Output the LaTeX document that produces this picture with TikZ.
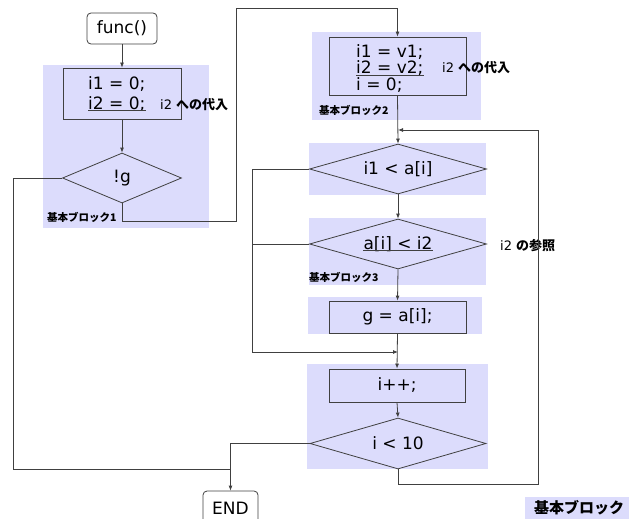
\documentclass[tikz,border=0pt]{standalone}
\usepackage{fontspec}
\setmainfont{DejaVu Sans}
\newfontfamily\cjk{Noto Sans CJK JP}
\usetikzlibrary{shapes.geometric,arrows.meta,calc}
\definecolor{bgc}{RGB}{220,220,252}
\definecolor{lc}{RGB}{64,64,64}
\begin{document}
\begin{tikzpicture}[x=1pt,y=-1pt,
  line/.style={draw=lc, line width=0.8pt},
  arr/.style={line, -{Latex[length=5pt,width=4pt]}},
  proc/.style={rectangle, draw=lc, fill=bgc, line width=0.8pt, inner sep=0pt},
  term/.style={rectangle, rounded corners=4pt, draw=lc, fill=white, line width=0.8pt, inner sep=0pt, font=\fontsize{17}{20}\selectfont},
  dec/.style={diamond, aspect=3.5, draw=lc, fill=bgc, line width=0.8pt, inner sep=0pt, font=\fontsize{17}{20}\selectfont},
  code/.style={inner sep=0pt, font=\fontsize{17}{20}\selectfont},
  lab/.style={inner sep=0pt, font=\fontsize{13}{15}\selectfont},
  blab/.style={inner sep=0pt, font=\cjk\bfseries\fontsize{10.5}{12}\selectfont},
  uline/.style={draw=lc, line width=0.7pt}]
\useasboundingbox (0,0) rectangle (629,519);
% backgrounds
\fill[bgc] (43,65) rectangle (209,228);
\fill[bgc] (312,32) rectangle (481,120);
\fill[bgc] (309,143) rectangle (486,195);
\fill[bgc] (309,218) rectangle (486,285);
\fill[bgc] (308,297) rectangle (482,334);
\fill[bgc] (307,364) rectangle (488,469);
\fill[bgc] (525,497) rectangle (640,530);
% nodes
\node[term, minimum width=70, minimum height=31] (func) at (122,28.5) {func()};
\node[proc, minimum width=118, minimum height=51] (box1) at (122,93.5) {};
\node[code, anchor=base west] (t11) at (88,89) {i1 = 0;};
\node[code, anchor=base west] (t12) at (88,109) {i2 = 0;};
\node[lab, anchor=base west] (l1) at (160,109) {i2 {\cjk\bfseries への代入}};
\node[dec, minimum width=119, minimum height=50] (d1) at (122,178) {!g};
\node[blab, anchor=west] (bl1) at (47,217) {基本ブロック1};

\node[proc, minimum width=137, minimum height=58] (box2) at (397.5,66) {};
\node[code, anchor=base west] (t21) at (356,58) {i1 = v1;};
\node[code, anchor=base west] (t22) at (356,74) {i2 = v2;};
\node[code, anchor=base west] (t23) at (356,91) {i = 0;};
\node[lab, anchor=base west] (l2) at (442,73) {i2 {\cjk\bfseries への代入}};
\node[blab, anchor=west] (bl2) at (319,110) {基本ブロック2};

\node[dec, minimum width=177, minimum height=50] (d2) at (398,169) {i1 < a[i]};
\node[dec, minimum width=177, minimum height=50] (d3) at (398,244) {};
\node[code] (t3) at (398,244) {a[i] < i2};
\node[lab, anchor=base west] (l3) at (500,250) {i2 {\cjk\bfseries の参照}};
\node[blab, anchor=west] (bl3) at (309,277) {基本ブロック3};
\node[proc, code, minimum width=137, minimum height=32] (g) at (397.5,317) {g = a[i];};

\node[proc, code, minimum width=136, minimum height=33] (ip) at (397,385.5) {i++;};
\node[dec, minimum width=176, minimum height=51] (d4) at (398,443.5) {i < 10};
\node[term, minimum width=55, minimum height=34] (end) at (230.5,508) {END};
\node[inner sep=0pt, font=\cjk\bfseries\fontsize{15}{17}\selectfont] (leg) at (579,508) {基本ブロック};

% underlines
\draw[uline] ([yshift=-1pt]t12.base west) -- ([yshift=-1pt]t12.base east);
\draw[uline] ([yshift=-1pt]t22.base west) -- ([yshift=-1pt]t22.base east);
\draw[uline] ([yshift=-1.5pt]t3.base west) -- ([yshift=-1.5pt]t3.base east);

% coordinates
\coordinate (cA) at (236,221);
\coordinate (cB) at (236,8);
\coordinate (cC) at (252,352);
\coordinate (cM) at (398,352);
\coordinate (cL1) at (538,484);
\coordinate (cR) at (398,130);
\coordinate (cD) at (13,469);

% connectors
\draw[arr] (func.south) -- (box1.north);
\draw[arr] (box1.south) -- (d1.north);
\draw[arr] (d1.south) |- (cA) -- (cB) -| (box2.north);
\draw[arr] (box2.south) -- (d2.north);
\draw[arr] (d2.south) -- (d3.north);
\draw[arr] (d3.south) -- (g.north);
\draw[arr] (g.south) -- (ip.north);
\draw[arr] (ip.south) -- (d4.north);
\draw[arr] (d2.west) -| (cC) -- (cM);
\draw[line] (d3.west) -- (d3.west -| cC);
\draw[arr] (d4.south) |- (cL1) |- (cR);
\draw[arr] (d4.west) -| (end.north);
\draw[line] (d1.west) -| (cD) -- (cD -| end.north);
\end{tikzpicture}
\end{document}
